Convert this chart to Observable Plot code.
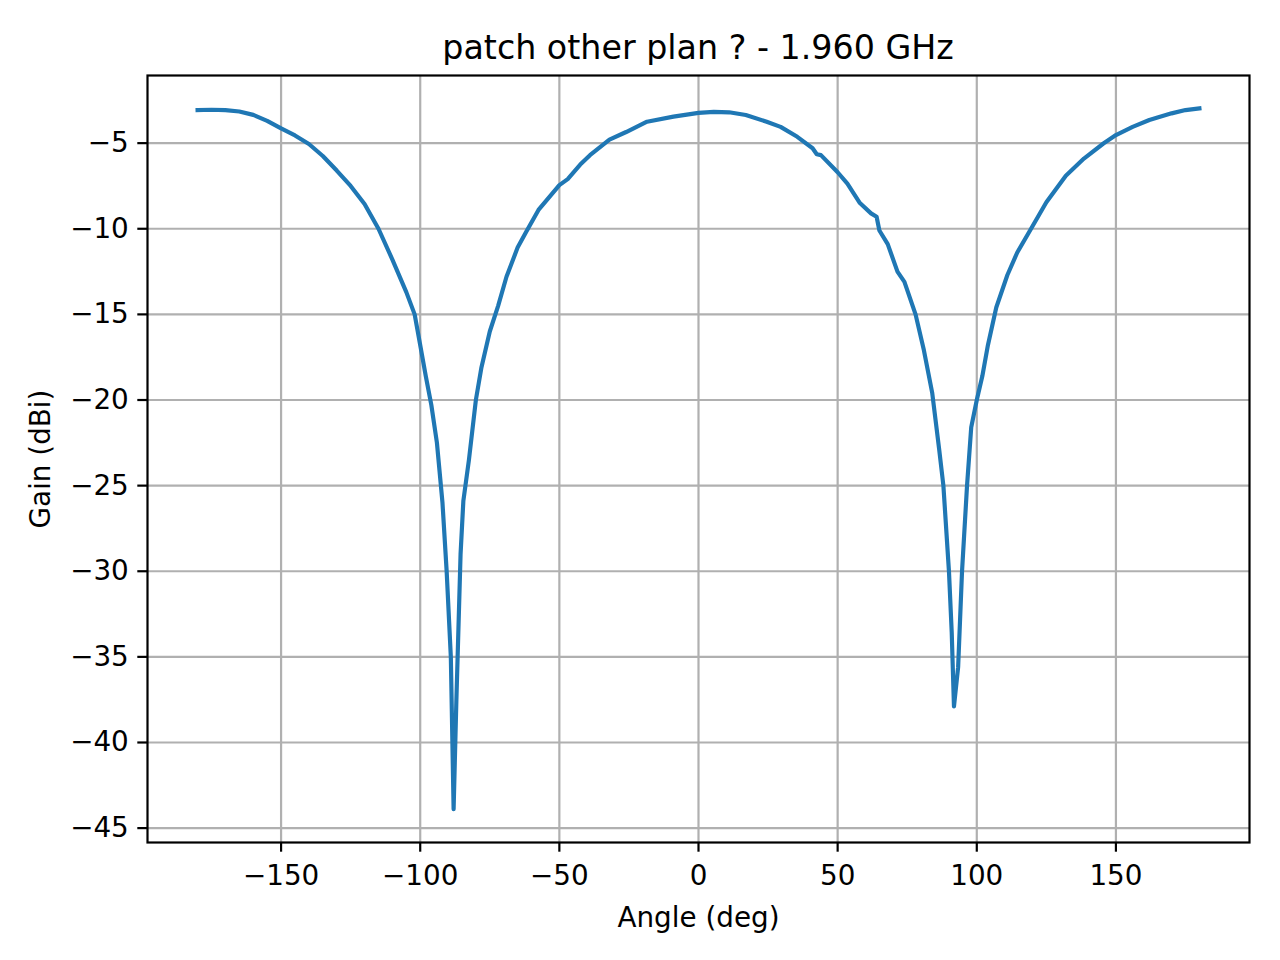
<!DOCTYPE html>
<html>
<head>
<meta charset="utf-8">
<script src="https://cdn.jsdelivr.net/npm/d3@7"></script>
<script src="https://cdn.jsdelivr.net/npm/@observablehq/plot@0.6"></script>
<style>
  html, body { margin: 0; padding: 0; background: #fff; }
  #wrap { position: relative; width: 1280px; height: 960px; font-family: "DejaVu Sans", sans-serif; }
  #title { position: absolute; left: 0; width: 1396px; top: 28px; height: 40px; text-align: center; font-size: 33.3px; line-height: 40px; color: #000; }
  #chart { position: absolute; left: 0; top: 65px; }
</style>
</head>
<body>
<div id="wrap">
  <div id="title">patch other plan ? - 1.960 GHz</div>
  <div id="chart"></div>
</div>
<script>
const titleText = "patch other plan ? - 1.960 GHz";
const xLabel = "Angle (deg)";
const yLabel = "Gain (dBi)";

const angles = [
  -180, -175, -170, -165, -160, -155, -150, -145, -140, -135, -130, -125, -120, -115, -110, -105,
  -102, -100, -98, -96, -94, -92, -90.5, -89, -88, -87, -85.5, -84.5, -82.5, -80, -78,
  -75, -72, -69, -65, -62, -57.5, -50, -47, -42.5, -39, -32, -26, -18.5, -9, 0,
  5.5, 11, 17, 24.5, 29.5, 35.5, 41, 42.5, 44, 50, 53.5, 58, 62, 64, 65, 68, 71.5, 74,
  78, 81, 84, 86.5, 88, 90, 91, 91.8, 93.3, 94.7, 96.5, 98, 100, 102, 104, 107, 111,
  114.5, 119.5, 125, 132, 138.5, 145.5, 150, 156, 162, 170, 175, 180
];
const gains = [
  -3.07, -3.05, -3.07, -3.15, -3.35, -3.7, -4.14, -4.55, -5.05, -5.75, -6.6, -7.5, -8.55, -10.0, -11.8, -13.7,
  -15.0, -16.8, -18.6, -20.3, -22.5, -26.0, -30.0, -35.0, -43.9, -37.5, -29.0, -25.9, -23.5, -20.0, -18.1,
  -16.0, -14.5, -12.8, -11.1, -10.2, -8.9, -7.45, -7.1, -6.25, -5.7, -4.8, -4.35, -3.75, -3.45, -3.23,
  -3.17, -3.2, -3.36, -3.75, -4.05, -4.63, -5.3, -5.65, -5.7, -6.7, -7.36, -8.5, -9.1, -9.3, -10.1, -10.9, -12.5, -13.1,
  -15.0, -17.1, -19.6, -22.9, -25.0, -30.0, -33.6, -37.9, -35.6, -30.0, -25.0, -21.6, -20.0, -18.6, -16.8, -14.6, -12.7,
  -11.4, -10.0, -8.45, -6.9, -5.9, -5.02, -4.53, -4.05, -3.65, -3.26, -3.07, -2.97
];
const xTicks = [-150, -100, -50, 0, 50, 100, 150];
const yTicks = [-5, -10, -15, -20, -25, -30, -35, -40, -45];

const data = angles.map((a, i) => ({angle: a, gain: gains[i]}));
document.getElementById("title").textContent = titleText;

const fs = 27.8;
const chart = Plot.plot({
  width: 1280,
  height: 895,
  marginLeft: 147,
  marginRight: 31,
  marginTop: 10,
  marginBottom: 118,
  style: {fontFamily: "DejaVu Sans, sans-serif", fontSize: fs + "px", color: "#000", background: "#fff"},
  x: {domain: [-198, 198]},
  y: {domain: [-45.84, -1.05]},
  marks: [
    Plot.gridX(xTicks, {stroke: "#b0b0b0", strokeOpacity: 1, strokeWidth: 2.2}),
    Plot.gridY(yTicks, {stroke: "#b0b0b0", strokeOpacity: 1, strokeWidth: 2.2}),
    Plot.line(data, {x: "angle", y: "gain", stroke: "#1f77b4", strokeWidth: 4.17, strokeLinejoin: "round", strokeLinecap: "square"}),
    Plot.frame({stroke: "#000", strokeWidth: 2.2}),
    Plot.axisX(xTicks, {tickSize: 9.7, tickPadding: 13, strokeWidth: 2.2, fontSize: fs, label: xLabel, labelAnchor: "center", labelOffset: 84, labelArrow: "none"}),
    Plot.axisY(yTicks, {tickSize: 9.7, tickPadding: 9, strokeWidth: 2.2, fontSize: fs, label: yLabel, labelAnchor: "center", labelOffset: 117, labelArrow: "none"})
  ]
});
document.getElementById("chart").appendChild(chart);
</script>
</body>
</html>
